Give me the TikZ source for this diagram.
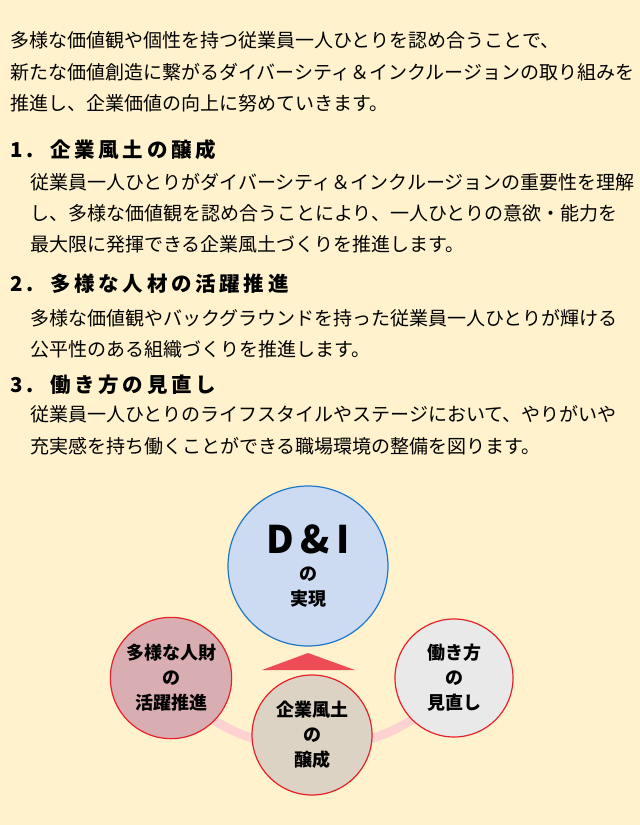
\documentclass[tikz,border=0pt]{standalone}
\usepackage{fontspec}
\setmainfont{Noto Sans CJK JP}
\definecolor{paper}{HTML}{FFF2CC}
\definecolor{skyfill}{HTML}{CCDAF2}
\definecolor{rosefill}{HTML}{D9AEB2}
\definecolor{sandfill}{HTML}{DCD3C4}
\definecolor{greyfill}{HTML}{E9E9E9}
\definecolor{ringred}{HTML}{E8202A}
\definecolor{ringblue}{HTML}{1E78C8}
\begin{document}
\begin{tikzpicture}[
      x=1pt, y=-1pt,
      para/.style={anchor=west, inner sep=0pt, font=\fontsize{19}{20}\selectfont},
      head/.style={anchor=west, inner sep=0pt, font=\fontsize{20.5}{22}\selectfont\bfseries\addfontfeature{LetterSpace=18}},
      ball/.style={circle, draw=ringred, line width=1.2pt, align=center,
                   font=\fontsize{18}{25}\selectfont\bfseries}
    ]
      \fill[paper] (0,0) rectangle (640,825);
      \useasboundingbox (0,0) rectangle (640,825);
      % intro
      \node[para] (i1) at (10,40) {多様な価値観や個性を持つ従業員一人ひとりを認め合うことで、};
      \node[para] (i2) at (10,72) {新たな価値創造に繋がるダイバーシティ＆インクルージョンの取り組みを};
      \node[para] (i3) at (10,103) {推進し、企業価値の向上に努めていきます。};
      % sections
      \node[head] (h1) at (10,150) {1.\ \ 企業風土の醸成};
      \node[para] (b11) at (30,182) {従業員一人ひとりがダイバーシティ＆インクルージョンの重要性を理解};
      \node[para] (b12) at (30,213) {し、多様な価値観を認め合うことにより、一人ひとりの意欲・能力を};
      \node[para] (b13) at (30,244) {最大限に発揮できる企業風土づくりを推進します。};
      \node[head] (h2) at (10,284) {2.\ \ 多様な人材の活躍推進};
      \node[para] (b21) at (30,318) {多様な価値観やバックグラウンドを持った従業員一人ひとりが輝ける};
      \node[para] (b22) at (30,349) {公平性のある組織づくりを推進します。};
      \node[head] (h3) at (10,385) {3.\ \ 働き方の見直し};
      \node[para] (b31) at (30,414) {従業員一人ひとりのライフスタイルやステージにおいて、やりがいや};
      \node[para] (b32) at (30,446) {充実感を持ち働くことができる職場環境の整備を図ります。};
      % band behind the circles
      \coordinate (bandL) at (200,710);
      \coordinate (bandR) at (425,710);
      \draw[pink!70, line width=9pt] (bandL) .. controls (260,760) and (365,760) .. (bandR);
      % circles
      \node[ball, draw=ringblue, fill=skyfill, minimum size=160pt] (goal) at (308,566)
        {{\fontsize{38}{40}\selectfont D\,\&\,I}\\[2pt]の\\実現};
      \node[ball, fill=rosefill, minimum size=120pt] (people) at (171,678) {多様な人財\\の\\活躍推進};
      \node[ball, fill=greyfill, minimum size=118pt] (work) at (454,678) {働き方\\の\\見直し};
      \node[ball, fill=sandfill, minimum size=120pt] (culture) at (312,735) {企業風土\\の\\醸成};
      % arrow head
      \coordinate (tipL) at (262,670);
      \coordinate (tipR) at (355,670);
      \fill[ringred!80] (tipL) -- (goal.south |- 0,653) -- (tipR) -- cycle;
    \end{tikzpicture}
\end{document}
